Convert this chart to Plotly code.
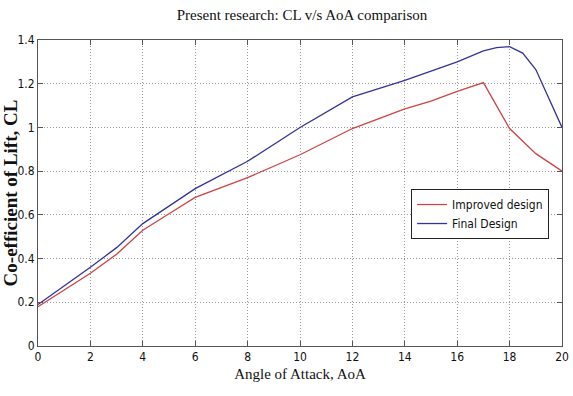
import plotly.graph_objects as go

# Lift coefficient vs angle of attack for the two wing designs
aoa_improved = [0, 1, 2, 3, 4, 5, 6, 8, 10, 12, 14, 15, 16, 17, 18, 19, 20]
cl_improved = [0.18, 0.255, 0.333, 0.42, 0.53, 0.605, 0.68, 0.77, 0.875, 0.995,
               1.085, 1.12, 1.165, 1.205, 0.995, 0.88, 0.80]

aoa_final = [0, 1, 2, 3, 4, 5, 6, 8, 10, 12, 14, 16, 17, 17.5, 18, 18.5, 19, 20]
cl_final = [0.19, 0.275, 0.36, 0.45, 0.56, 0.64, 0.72, 0.845, 1.0, 1.14,
            1.215, 1.30, 1.35, 1.365, 1.37, 1.34, 1.265, 1.0]

x_ticks = [0, 2, 4, 6, 8, 10, 12, 14, 16, 18, 20]
x_tick_text = ["0", "2", "4", "6", "8", "10", "12", "14", "16", "18", "20"]
y_ticks = [0, 0.2, 0.4, 0.6, 0.8, 1.0, 1.2, 1.4]
y_tick_text = ["0", "0.2", "0.4", "0.6", "0.8", "1", "1.2", "1.4"]

narrow = "DejaVu Sans Condensed, Liberation Sans Narrow, sans-serif"
serif = "Liberation Serif, Times New Roman, serif"

fig = go.Figure()
fig.add_trace(go.Scatter(x=aoa_improved, y=cl_improved, mode="lines",
                         name="Improved design",
                         line=dict(color="#cc4444", width=1.3)))
fig.add_trace(go.Scatter(x=aoa_final, y=cl_final, mode="lines",
                         name="Final Design",
                         line=dict(color="#333399", width=1.3)))

axis_common = dict(
    showline=True, linecolor="#555555", linewidth=1, mirror="ticks",
    ticks="inside", ticklen=5, tickcolor="#555555",
    showgrid=True, gridcolor="#999999", griddash="1px,2px", gridwidth=1,
    zeroline=False, ticklabeloverflow="allow",
    tickfont=dict(family=narrow, size=12, color="#111111"),
)

fig.update_xaxes(range=[0, 20], tickvals=x_ticks, ticktext=x_tick_text,
                 title=dict(text="Angle of Attack, AoA",
                            font=dict(family=serif, size=15, color="#111111"),
                            standoff=5),
                 **axis_common)
fig.update_yaxes(range=[0, 1.4], tickvals=y_ticks, ticktext=y_tick_text,
                 title=dict(text="<b>Co-efficient of Lift, CL</b>",
                            font=dict(family=serif, size=19, color="#111111"),
                            standoff=0),
                 **axis_common)

fig.update_layout(
    width=573, height=396,
    margin=dict(l=36, r=4, t=40, b=50),
    paper_bgcolor="white", plot_bgcolor="white",
    title=dict(text="Present research: CL v/s AoA comparison",
               font=dict(family=serif, size=15, color="#111111"),
               x=0.527, xanchor="center", y=0.962, yanchor="middle"),
    legend=dict(x=0.712, y=0.513, xanchor="left", yanchor="top",
                bgcolor="white", bordercolor="#222222", borderwidth=1,
                font=dict(family=narrow, size=12, color="#111111"),
                itemwidth=30, tracegroupgap=0),
    showlegend=True,
)

fig.write_html("out.html")
